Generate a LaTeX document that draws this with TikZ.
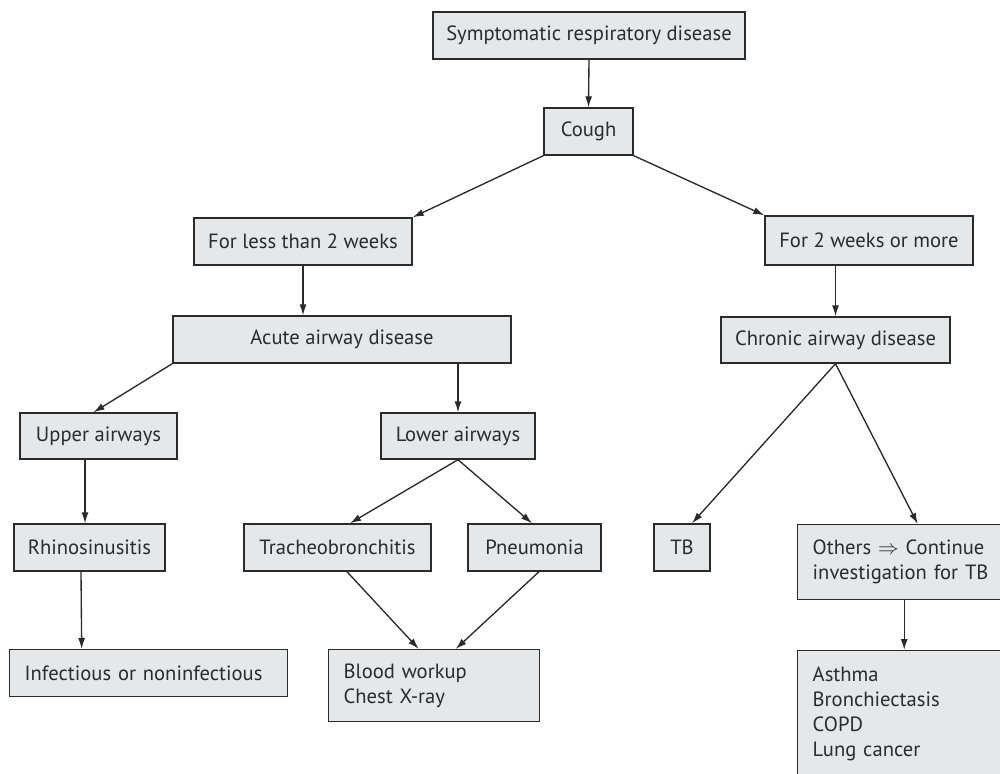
\documentclass[tikz,border=0pt]{standalone}
\usepackage{fontspec}
\setmainfont{PT Sans}
\usetikzlibrary{arrows.meta}
\definecolor{boxgray}{HTML}{E6E7E8}
\definecolor{inkgray}{HTML}{2B2B2B}
\tikzset{
box/.style={draw=inkgray, fill=boxgray, line width=1.4pt, inner sep=0pt, text=inkgray, font=\fontsize{20.6}{25}\selectfont},
listbox/.style={box, align=left, inner xsep=15pt, inner ysep=0pt},
arr/.style={-{Latex[length=11pt,width=7pt]}, line width=1.35pt, draw=inkgray}
}
\begin{document}
\begin{tikzpicture}[x=1pt,y=-1pt]
\useasboundingbox (0,0) rectangle (1000,773);
\clip (0,0) rectangle (1000,773);
\node[box, minimum width=312pt, minimum height=47pt] (sympt) at (589,35.5) {Symptomatic respiratory disease};
\node[box, minimum width=89pt, minimum height=47pt] (cough) at (588.5,131.5) {Cough};
\node[box, minimum width=218pt, minimum height=47pt] (less) at (303,241.5) {For less than 2 weeks};
\node[box, minimum width=208pt, minimum height=49pt] (more) at (869,240.5) {For 2 weeks or more};
\node[box, minimum width=338pt, minimum height=47pt] (acute) at (342,339.5) {Acute airway disease};
\node[box, minimum width=229pt, minimum height=46pt] (chronic) at (835.5,340) {Chronic airway disease};
\node[box, minimum width=157pt, minimum height=46pt] (upper) at (98.5,436) {Upper airways};
\node[box, minimum width=154pt, minimum height=46pt] (lower) at (458,436) {Lower airways};
\node[box, minimum width=151pt, minimum height=47pt] (rhino) at (89.5,547.5) {Rhinosinusitis};
\node[box, minimum width=187pt, minimum height=47pt] (tracheo) at (337.5,547.5) {Tracheobronchitis};
\node[box, minimum width=133pt, minimum height=47pt] (pneu) at (534.5,547.5) {Pneumonia};
\node[box, minimum width=56pt, minimum height=47pt] (tb) at (682,547.5) {TB};
\node[listbox, text width=183pt, minimum height=75pt, anchor=north west] (others) at (797,524) {Others $\Rightarrow$ Continue\\investigation for TB};
\node[listbox, text width=248pt, minimum height=47pt, anchor=north west] (infect) at (9,649) {Infectious or noninfectious};
\node[listbox, text width=181pt, minimum height=72pt, anchor=north west] (blood) at (328,649) {Blood workup\\Chest X-ray};
\node[listbox, text width=183pt, minimum height=126pt, anchor=north west] (later) at (797,650) {Asthma\\Bronchiectasis\\COPD\\Lung cancer};
\draw[arr] (sympt.south) -- (cough.north);
\draw[arr] (cough.south west) -- (less.north east);
\draw[arr] (cough.south east) -- (more.north west);
\draw[arr] (less.south) -- (less.south |- acute.north);
\draw[arr] (chronic.north |- more.south) -- (chronic.north);
\draw[arr] (acute.south west) -- ([xshift=-5pt]upper.north);
\draw[arr] (lower.north |- acute.south) -- (lower.north);
\draw[arr] ([xshift=-13.5pt]upper.south) -- ([xshift=-4.5pt]rhino.north);
\draw[arr] ([xshift=-8.5pt]rhino.south) -- ([xshift=-67pt]infect.north);
\draw[arr] (lower.south) -- ([xshift=12.5pt]tracheo.north);
\draw[arr] (lower.south) -- ([xshift=-2.5pt]pneu.north);
\draw[arr] ([xshift=9.5pt]tracheo.south) -- ([xshift=-15.5pt]blood.north);
\draw[arr] ([xshift=4.5pt]pneu.south) -- ([xshift=21.5pt]blood.north);
\draw[arr] (chronic.south) -- ([xshift=10pt]tb.north);
\draw[arr] (chronic.south) -- ([xshift=13.5pt]others.north);
\draw[arr] (others.south) -- (later.north);
\end{tikzpicture}
\end{document}
